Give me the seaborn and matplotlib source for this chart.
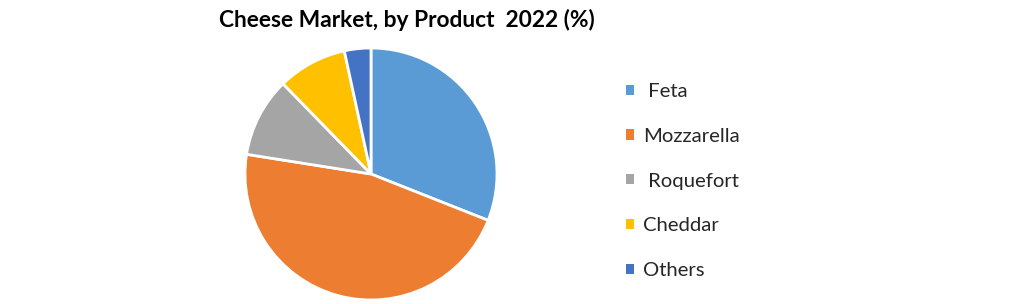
import matplotlib
matplotlib.use("Agg")
import matplotlib.pyplot as plt
from matplotlib.patches import Patch
import seaborn as sns

categories = [" Feta", "Mozzarella", " Roquefort", "Cheddar", "Others"]
shares = [31.0, 46.5, 10.2, 8.9, 3.4]
colors_hex = ["#5B9BD5", "#ED7D31", "#A5A5A5", "#FFC000", "#4472C4"]
title = "Cheese Market, by Product  2022 (%)"

sns.set_theme(style="white")
plt.rcParams["font.family"] = ["Lato", "DejaVu Sans"]
palette = sns.color_palette(colors_hex)

fig = plt.figure(figsize=(10.21, 3.04), dpi=100)
cx, cy, r = 371, 174, 126
ax = fig.add_axes([(cx - r) / 1021, (304 - cy - r) / 304, 2 * r / 1021, 2 * r / 304])
ax.pie(shares, colors=palette, startangle=90, counterclock=False,
       wedgeprops=dict(edgecolor="white", linewidth=2))
ax.set_xlim(-1, 1)
ax.set_ylim(-1, 1)
ax.set_aspect("equal")
ax.axis("off")

fig.text(407 / 1021, 1 - 20 / 304, title, ha="center", va="center",
         fontsize=16.4, fontweight="bold", color="black")

handles = [Patch(facecolor=c, edgecolor="none") for c in palette]
fig.legend(handles, categories, loc="upper left",
           bbox_to_anchor=(626 / 1021, 1 - 83 / 304), frameon=False,
           fontsize=14.6, handlelength=0.4, handleheight=0.4,
           handletextpad=0.45, labelspacing=1.37, borderaxespad=0,
           borderpad=0)

fig.savefig("out.png", dpi=100, facecolor="white")
